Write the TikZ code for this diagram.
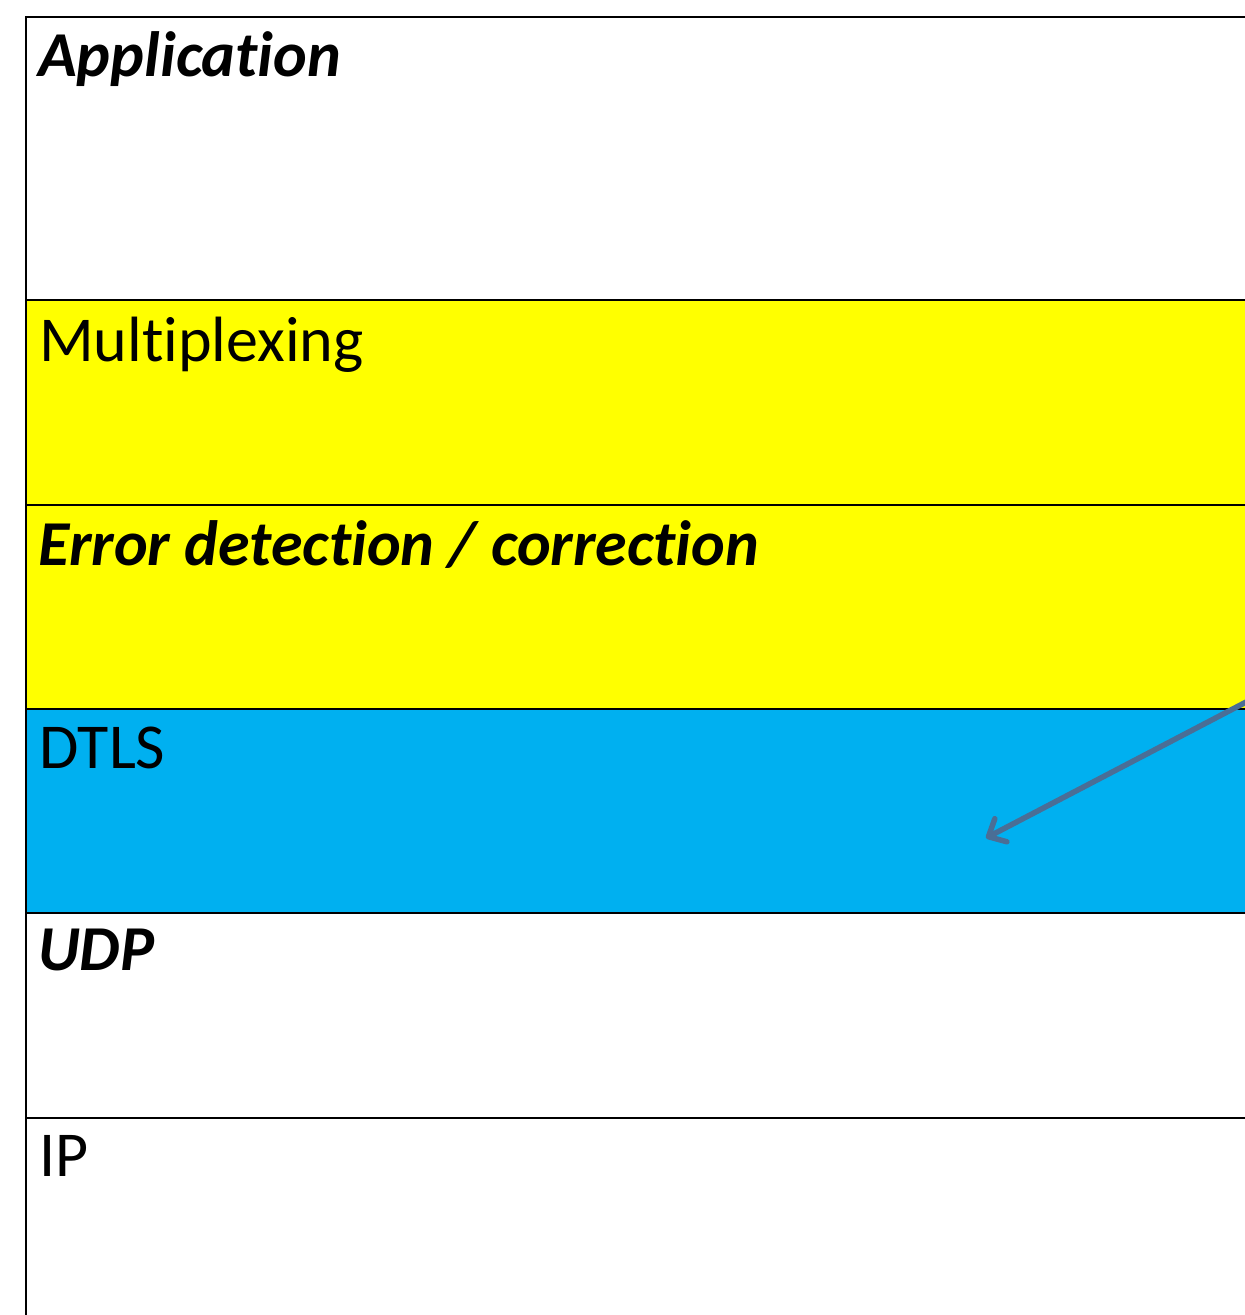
\documentclass[tikz,border=0pt]{standalone}
\usepackage{fontspec}
\setmainfont{Carlito}[Ligatures=NoCommon]
\usetikzlibrary{arrows.meta}
\definecolor{layeryellow}{RGB}{255,255,0}
\definecolor{layerblue}{RGB}{0,176,240}
\definecolor{arrowslate}{RGB}{74,110,150}

\begin{document}
\begin{tikzpicture}[x=1pt,y=-1pt,
	layertext/.style={anchor=base west, inner sep=0pt, font=\fontsize{64}{72}\selectfont}]
		\useasboundingbox (0,0) rectangle (1245,1315);
		\clip (0,0) rectangle (1245,1315);
		\foreach \ytop/\ybot/\col in {17/300/white, 300/505/layeryellow, 505/709/layeryellow, 709/913/layerblue, 913/1118/white, 1118/1340/white}
			\filldraw[fill=\col, line width=2pt] (26,\ytop) rectangle (1300,\ybot);
		
		\node[layertext] (app) at (38,76) {\textbf{\textit{Application}}};
		\node[layertext] (mux) at (39,361) {Multiplexing};
		\node[layertext] (err) at (38,565) {\textbf{\textit{Error detection / correction}}};
		\node[layertext] (dtls) at (39,768) {DTLS};
		\node[layertext] (udp) at (38,970) {\textbf{\textit{UDP}}};
		\node[layertext] (ip) at (39,1176) {IP};
		
		\coordinate (from) at (1250,700);
		\coordinate (to) at (986,838);
		\draw[arrowslate, line width=5.5pt, -{Straight Barb[length=14pt, width=26pt, round]}] (from) -- (to);
	\end{tikzpicture}
\end{document}
